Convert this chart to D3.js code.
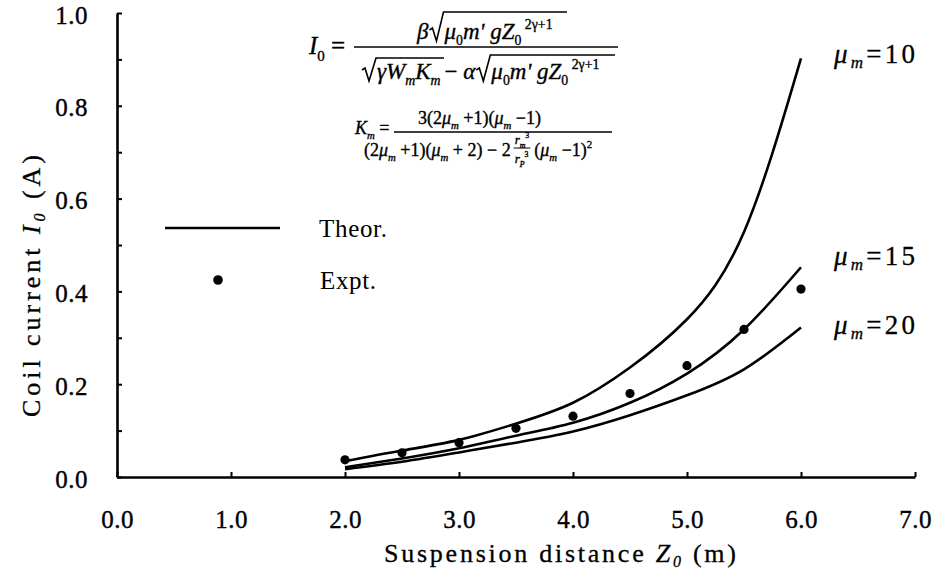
<!DOCTYPE html>
<html>
<head>
<meta charset="utf-8">
<script src="https://cdn.jsdelivr.net/npm/d3@7/dist/d3.min.js"></script>
<style>
  html, body { margin: 0; padding: 0; background: #fff; }
  svg { display: block; }
  text { font-family: "Liberation Serif", "Times New Roman", serif; }
</style>
</head>
<body>
<svg id="chart" width="937" height="574"></svg>
<script>
// Suspension distance (m) at which each curve / measurement is given
const distances = [2.0, 2.5, 3.0, 3.5, 4.0, 4.5, 5.0, 5.5, 6.0];

// Theoretical coil current (A) for three relative permeabilities
const theoryMu10 = [0.034, 0.057, 0.080, 0.115, 0.160, 0.236, 0.340, 0.528, 0.902];
const theoryMu15 = [0.021, 0.040, 0.062, 0.089, 0.117, 0.160, 0.223, 0.318, 0.452];
const theoryMu20 = [0.017, 0.033, 0.053, 0.074, 0.098, 0.133, 0.176, 0.232, 0.322];
const curveLabels = ["10", "15", "20"];

// Measured coil current (A)
const measured = [0.037, 0.052, 0.074, 0.105, 0.131, 0.180, 0.240, 0.318, 0.405];

// Axis ticks
const xTicks = [0, 1, 2, 3, 4, 5, 6, 7];
const xTickLabels = ["0.0", "1.0", "2.0", "3.0", "4.0", "5.0", "6.0", "7.0"];
const yTicks = [0, 0.1, 0.2, 0.3, 0.4, 0.5, 0.6, 0.7, 0.8, 0.9, 1.0];
const yTickLabels = ["0.0", "", "0.2", "", "0.4", "", "0.6", "", "0.8", "", "1.0"];

const ink = "#000";
const svg = d3.select("#chart");
const x = d3.scaleLinear().domain([0, 7]).range([117, 915]);
const y = d3.scaleLinear().domain([0, 1]).range([477, 13]);

// slightly heavier text, like a printed figure
function heavy(sel, w) {
  return sel.attr("stroke", ink).attr("stroke-width", w).attr("paint-order", "stroke");
}

// ---- axes ----
const xAxis = d3.axisBottom(x)
  .tickValues(xTicks)
  .tickFormat((d, i) => xTickLabels[i])
  .tickSizeInner(-5).tickSizeOuter(0).tickPadding(33);
const gx = svg.append("g").attr("transform", `translate(0,${y(0)})`).call(xAxis);

const yAxis = d3.axisLeft(y)
  .tickValues(yTicks)
  .tickFormat((d, i) => yTickLabels[i])
  .tickSizeInner(-5).tickSizeOuter(0).tickPadding(29);
const gy = svg.append("g").attr("transform", `translate(${x(0)},0)`).call(yAxis);

[gx, gy].forEach(g => {
  g.attr("font-family", null);
  g.select(".domain").attr("stroke", ink).attr("stroke-width", 2.6);
  g.selectAll(".tick line").attr("stroke", ink).attr("stroke-width", 2);
  heavy(g.selectAll(".tick text"), 0.4)
    .attr("fill", ink).style("font-size", "25px").attr("letter-spacing", 0.5);
});
gy.selectAll(".tick text").attr("dy", "0.4em");

// axis titles
const xTitle = heavy(svg.append("text"), 0.3)
  .attr("x", 560).attr("y", 562).attr("text-anchor", "middle")
  .attr("textLength", 352).attr("lengthAdjust", "spacing")
  .style("font-size", "26px").attr("fill", ink);
xTitle.append("tspan").text("Suspension distance ");
xTitle.append("tspan").attr("font-style", "italic").text("Z");
xTitle.append("tspan").attr("font-style", "italic").attr("dy", 5).style("font-size", "16px").text("0");
xTitle.append("tspan").attr("dy", -5).text(" (m)");

const yTitle = heavy(svg.append("text"), 0.3)
  .attr("transform", "translate(40,286) rotate(-90)")
  .attr("text-anchor", "middle")
  .attr("textLength", 262).attr("lengthAdjust", "spacing")
  .style("font-size", "26px").attr("fill", ink);
yTitle.append("tspan").text("Coil current ");
yTitle.append("tspan").attr("font-style", "italic").text("I");
yTitle.append("tspan").attr("font-style", "italic").attr("dy", 5).style("font-size", "16px").text("0");
yTitle.append("tspan").attr("dy", -5).text("   (A)");

// ---- theoretical curves ----
const line = d3.line()
  .x((d, i) => x(distances[i]))
  .y(d => y(d))
  .curve(d3.curveNatural);

const theory = [theoryMu10, theoryMu15, theoryMu20];
svg.append("g").selectAll("path").data(theory).join("path")
  .attr("d", line)
  .attr("fill", "none")
  .attr("stroke", ink)
  .attr("stroke-width", 2.6)
  .attr("stroke-linejoin", "round");

// ---- measured points ----
svg.append("g").selectAll("circle").data(measured).join("circle")
  .attr("cx", (d, i) => x(distances[i]))
  .attr("cy", d => y(d))
  .attr("r", 4.6)
  .attr("fill", ink);

// ---- curve labels (μm = ...) ----
const labelY = [55, 257, 326];
curveLabels.forEach((lab, i) => {
  const t = heavy(svg.append("text"), 0.3)
    .attr("x", 834).attr("y", labelY[i] + 8)
    .attr("textLength", 81).attr("lengthAdjust", "spacing")
    .style("font-size", "27px").attr("fill", ink);
  t.append("tspan").attr("font-style", "italic").text("μ");
  t.append("tspan").attr("font-style", "italic").attr("dy", 5).style("font-size", "17px").text("m");
  t.append("tspan").attr("dy", -5).text("=" + lab);
});

// ---- legend ----
const legend = svg.append("g");
legend.append("line").attr("x1", 165).attr("x2", 280).attr("y1", 228).attr("y2", 228)
  .attr("stroke", ink).attr("stroke-width", 2.6);
legend.append("text").attr("x", 319).attr("y", 237).style("font-size", "25px").attr("fill", ink)
  .attr("textLength", 68).attr("lengthAdjust", "spacing").text("Theor.");
legend.append("circle").attr("cx", 218).attr("cy", 280).attr("r", 4.8).attr("fill", ink);
legend.append("text").attr("x", 320).attr("y", 289).style("font-size", "25px").attr("fill", ink)
  .attr("textLength", 56).attr("lengthAdjust", "spacing").text("Expt.");

// ---- formulas ----
const fm = svg.append("g").attr("fill", ink);

// radical sign starting at x0, overline at yTop, ending at x1
function radical(x0, yBase, yTop, x1) {
  fm.append("path")
    .attr("d", `M${x0},${yBase - 9} L${x0 + 3},${yBase - 11} L${x0 + 7},${yBase + 2} L${x0 + 14},${yTop} L${x1},${yTop}`)
    .attr("fill", "none").attr("stroke", ink).attr("stroke-width", 1.6);
  return x0 + 15;
}
// mixed text run; returns x of its right edge
function rich(xp, yp, size, parts) {
  const t = fm.append("text").attr("x", xp).attr("y", yp).style("font-size", size + "px");
  heavy(t, 0.35);
  let shift = 0;
  parts.forEach(p => {
    const s = t.append("tspan").text(p.t);
    if (p.i) s.attr("font-style", "italic");
    const target = p.sub ? size * 0.28 : p.sup ? -size * 0.45 : 0;
    if (target !== shift) { s.attr("dy", target - shift); shift = target; }
    if (p.sub || p.sup) s.style("font-size", (size * 0.6) + "px");
  });
  return xp + t.node().getComputedTextLength();
}
function hline(x1, x2, yy, w) {
  fm.append("line").attr("x1", x1).attr("x2", x2).attr("y1", yy).attr("y2", yy)
    .attr("stroke", ink).attr("stroke-width", w);
}

// I0 = β√(μ0 m' g Z0^(2γ+1)) / ( √(γ Wm Km) − α√(μ0 m' g Z0^(2γ+1)) )
const zPart = [{t: "μ", i: 1}, {t: "0", sub: 1}, {t: "m' gZ", i: 1}, {t: "0", sub: 1}, {t: " 2γ+1", sup: 1}];
rich(309, 54, 25, [{t: "I", i: 1}, {t: "0", sub: 1}, {t: " ="}]);
hline(354, 618, 47, 1.6);
let cx = rich(417, 39, 23, [{t: "β", i: 1}]);
let rx = radical(cx + 1, 39, 12, 567);
rich(rx, 39, 23, zPart);
rx = radical(362, 79, 58, 444);
cx = rich(rx, 79, 23, [{t: "γW", i: 1}, {t: "m", i: 1, sub: 1}, {t: "K", i: 1}, {t: "m", i: 1, sub: 1}]);
cx = rich(cx + 4, 79, 23, [{t: "− "}, {t: "α", i: 1}]);
rx = radical(cx + 1, 79, 55, 615);
rich(rx, 79, 23, zPart);

// Km = 3(2μm+1)(μm−1) / ( (2μm+1)(μm+2) − 2 rm³/rp³ (μm−1)² )
rich(355, 134, 18, [{t: "K", i: 1}, {t: "m", i: 1, sub: 1}, {t: " ="}]);
hline(394, 612, 132, 1.4);
rich(418, 124, 18, [{t: "3(2"}, {t: "μ", i: 1}, {t: "m", i: 1, sub: 1}, {t: " +1)("}, {t: "μ", i: 1}, {t: "m", i: 1, sub: 1}, {t: " −1)"}]);
cx = rich(364, 156, 18, [{t: "(2"}, {t: "μ", i: 1}, {t: "m", i: 1, sub: 1}, {t: " +1)("}, {t: "μ", i: 1}, {t: "m", i: 1, sub: 1}, {t: " + 2) − 2"}]);
const fx = cx + 4;
const f1 = rich(fx, 144, 13, [{t: "r", i: 1}, {t: "m", i: 1, sub: 1}, {t: "3", sup: 1}]);
hline(fx - 1, f1 + 1, 148, 1);
rich(fx, 163, 13, [{t: "r", i: 1}, {t: "P", i: 1, sub: 1}, {t: "3", sup: 1}]);
rich(f1 + 5, 156, 18, [{t: "("}, {t: "μ", i: 1}, {t: "m", i: 1, sub: 1}, {t: " −1)"}, {t: "2", sup: 1}]);
</script>
</body>
</html>
